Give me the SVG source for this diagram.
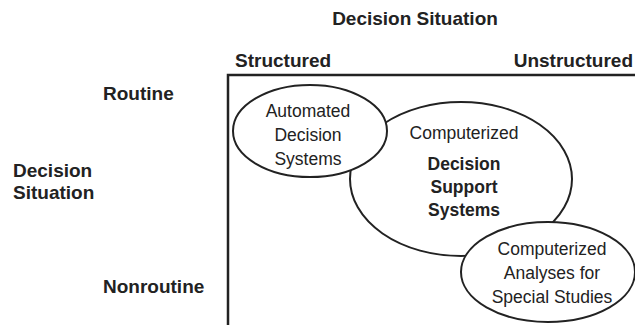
<svg xmlns="http://www.w3.org/2000/svg" width="635" height="325" viewBox="0 0 635 325">
  <style>
    .lbl { font-family: "Liberation Sans", Arial, sans-serif; font-weight: bold; font-size: 19px; fill: #222; }
    .txt { font-family: "Liberation Sans", Arial, sans-serif; font-size: 17.5px; fill: #222; text-anchor: middle; }
    .txtb { font-family: "Liberation Sans", Arial, sans-serif; font-size: 17.5px; font-weight: bold; fill: #222; text-anchor: middle; }
    .ell { fill: #fff; stroke: #222; stroke-width: 2; }
    .frame { fill: none; stroke: #222; stroke-width: 2.5; }
  </style>
  <rect width="635" height="325" fill="#fff"/>

  <!-- axis labels -->
  <g id="axis-labels">
    <text class="lbl" x="415" y="25" text-anchor="middle">Decision Situation</text>
    <text class="lbl" x="235" y="67">Structured</text>
    <text class="lbl" x="633" y="67" text-anchor="end">Unstructured</text>
    <text class="lbl" x="103" y="100">Routine</text>
    <text class="lbl" x="13" y="177">Decision</text>
    <text class="lbl" x="13" y="199">Situation</text>
    <text class="lbl" x="103" y="293">Nonroutine</text>
  </g>

  <!-- quadrant frame -->
  <path class="frame" d="M228,326 V75 H636"/>

  <g id="dss">
    <ellipse class="ell" cx="461" cy="179" rx="111" ry="77"/>
    <text class="txt" x="464" y="139">Computerized</text>
    <text class="txtb" x="464" y="170">Decision</text>
    <text class="txtb" x="464" y="193">Support</text>
    <text class="txtb" x="464" y="216">Systems</text>
  </g>

  <g id="automated">
    <ellipse class="ell" cx="310" cy="131" rx="77" ry="46"/>
    <text class="txt" x="308" y="117">Automated</text>
    <text class="txt" x="308" y="141">Decision</text>
    <text class="txt" x="308" y="165">Systems</text>
  </g>

  <g id="special-studies">
    <ellipse class="ell" cx="548" cy="272" rx="87" ry="50"/>
    <text class="txt" x="552" y="255">Computerized</text>
    <text class="txt" x="552" y="279">Analyses for</text>
    <text class="txt" x="552" y="303">Special Studies</text>
  </g>
</svg>
